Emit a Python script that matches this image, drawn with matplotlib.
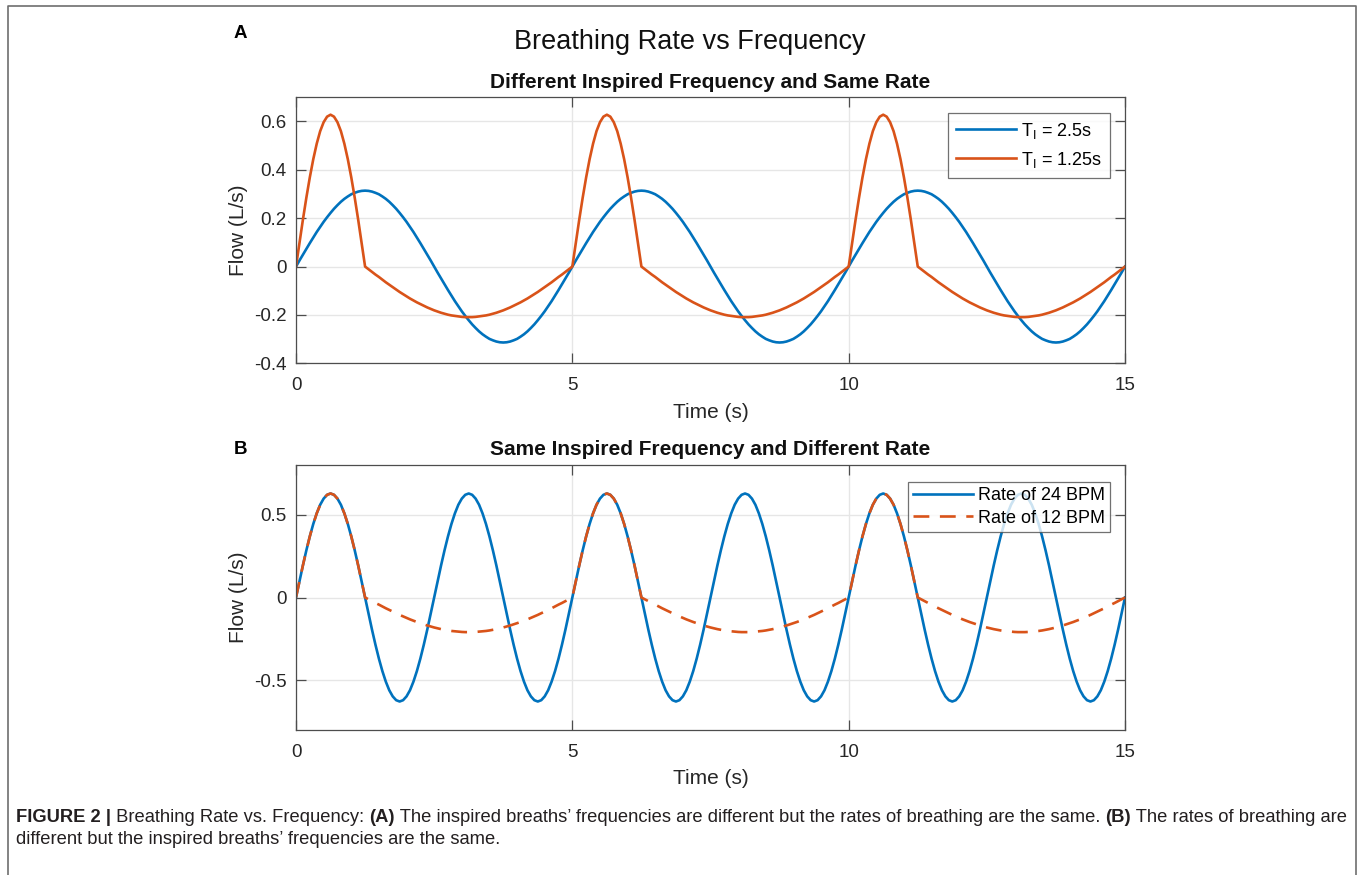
import numpy as np
import matplotlib
matplotlib.use("Agg")
import matplotlib.pyplot as plt
from matplotlib import font_manager
from matplotlib.lines import Line2D

time_s = np.linspace(0, 15, 241)

flow_ti_25 = [
    # 0 - 5 s
    0, 0.025, 0.049, 0.073, 0.097, 0.120, 0.143, 0.164, 0.185, 0.204, 0.222, 0.239, 0.254, 0.268, 0.280, 0.290, 0.299, 0.305, 0.310, 0.313,
    0.314, 0.313, 0.310, 0.305, 0.299, 0.290, 0.280, 0.268, 0.254, 0.239, 0.222, 0.204, 0.185, 0.164, 0.143, 0.120, 0.097, 0.073, 0.049, 0.025,
    0, -0.025, -0.049, -0.073, -0.097, -0.120, -0.143, -0.164, -0.185, -0.204, -0.222, -0.239, -0.254, -0.268, -0.280, -0.290, -0.299, -0.305, -0.310, -0.313,
    -0.314, -0.313, -0.310, -0.305, -0.299, -0.290, -0.280, -0.268, -0.254, -0.239, -0.222, -0.204, -0.185, -0.164, -0.143, -0.120, -0.097, -0.073, -0.049, -0.025,
    # 5 - 10 s
    0, 0.025, 0.049, 0.073, 0.097, 0.120, 0.143, 0.164, 0.185, 0.204, 0.222, 0.239, 0.254, 0.268, 0.280, 0.290, 0.299, 0.305, 0.310, 0.313,
    0.314, 0.313, 0.310, 0.305, 0.299, 0.290, 0.280, 0.268, 0.254, 0.239, 0.222, 0.204, 0.185, 0.164, 0.143, 0.120, 0.097, 0.073, 0.049, 0.025,
    0, -0.025, -0.049, -0.073, -0.097, -0.120, -0.143, -0.164, -0.185, -0.204, -0.222, -0.239, -0.254, -0.268, -0.280, -0.290, -0.299, -0.305, -0.310, -0.313,
    -0.314, -0.313, -0.310, -0.305, -0.299, -0.290, -0.280, -0.268, -0.254, -0.239, -0.222, -0.204, -0.185, -0.164, -0.143, -0.120, -0.097, -0.073, -0.049, -0.025,
    # 10 - 15 s
    0, 0.025, 0.049, 0.073, 0.097, 0.120, 0.143, 0.164, 0.185, 0.204, 0.222, 0.239, 0.254, 0.268, 0.280, 0.290, 0.299, 0.305, 0.310, 0.313,
    0.314, 0.313, 0.310, 0.305, 0.299, 0.290, 0.280, 0.268, 0.254, 0.239, 0.222, 0.204, 0.185, 0.164, 0.143, 0.120, 0.097, 0.073, 0.049, 0.025,
    0, -0.025, -0.049, -0.073, -0.097, -0.120, -0.143, -0.164, -0.185, -0.204, -0.222, -0.239, -0.254, -0.268, -0.280, -0.290, -0.299, -0.305, -0.310, -0.313,
    -0.314, -0.313, -0.310, -0.305, -0.299, -0.290, -0.280, -0.268, -0.254, -0.239, -0.222, -0.204, -0.185, -0.164, -0.143, -0.120, -0.097, -0.073, -0.049, -0.025,
    0,
]

flow_ti_125 = [
    # 0 - 5 s
    0, 0.098, 0.194, 0.285, 0.369, 0.444, 0.508, 0.560, 0.597, 0.620, 0.628, 0.620, 0.597, 0.560, 0.508, 0.444, 0.369, 0.285, 0.194, 0.098,
    0, -0.011, -0.022, -0.033, -0.043, -0.054, -0.065, -0.075, -0.085, -0.095, -0.105, -0.114, -0.123, -0.132, -0.140, -0.148, -0.155, -0.162, -0.169, -0.175,
    -0.181, -0.186, -0.191, -0.195, -0.199, -0.202, -0.204, -0.206, -0.208, -0.209, -0.209, -0.209, -0.208, -0.206, -0.204, -0.202, -0.199, -0.195, -0.191, -0.186,
    -0.181, -0.175, -0.169, -0.162, -0.155, -0.148, -0.140, -0.132, -0.123, -0.114, -0.105, -0.095, -0.085, -0.075, -0.065, -0.054, -0.043, -0.033, -0.022, -0.011,
    # 5 - 10 s
    0, 0.098, 0.194, 0.285, 0.369, 0.444, 0.508, 0.560, 0.597, 0.620, 0.628, 0.620, 0.597, 0.560, 0.508, 0.444, 0.369, 0.285, 0.194, 0.098,
    0, -0.011, -0.022, -0.033, -0.043, -0.054, -0.065, -0.075, -0.085, -0.095, -0.105, -0.114, -0.123, -0.132, -0.140, -0.148, -0.155, -0.162, -0.169, -0.175,
    -0.181, -0.186, -0.191, -0.195, -0.199, -0.202, -0.204, -0.206, -0.208, -0.209, -0.209, -0.209, -0.208, -0.206, -0.204, -0.202, -0.199, -0.195, -0.191, -0.186,
    -0.181, -0.175, -0.169, -0.162, -0.155, -0.148, -0.140, -0.132, -0.123, -0.114, -0.105, -0.095, -0.085, -0.075, -0.065, -0.054, -0.043, -0.033, -0.022, -0.011,
    # 10 - 15 s
    0, 0.098, 0.194, 0.285, 0.369, 0.444, 0.508, 0.560, 0.597, 0.620, 0.628, 0.620, 0.597, 0.560, 0.508, 0.444, 0.369, 0.285, 0.194, 0.098,
    0, -0.011, -0.022, -0.033, -0.043, -0.054, -0.065, -0.075, -0.085, -0.095, -0.105, -0.114, -0.123, -0.132, -0.140, -0.148, -0.155, -0.162, -0.169, -0.175,
    -0.181, -0.186, -0.191, -0.195, -0.199, -0.202, -0.204, -0.206, -0.208, -0.209, -0.209, -0.209, -0.208, -0.206, -0.204, -0.202, -0.199, -0.195, -0.191, -0.186,
    -0.181, -0.175, -0.169, -0.162, -0.155, -0.148, -0.140, -0.132, -0.123, -0.114, -0.105, -0.095, -0.085, -0.075, -0.065, -0.054, -0.043, -0.033, -0.022, -0.011,
    0,
]

flow_24_bpm = [
    # 0 - 5 s
    0, 0.098, 0.194, 0.285, 0.369, 0.444, 0.508, 0.560, 0.597, 0.620, 0.628, 0.620, 0.597, 0.560, 0.508, 0.444, 0.369, 0.285, 0.194, 0.098,
    0, -0.098, -0.194, -0.285, -0.369, -0.444, -0.508, -0.560, -0.597, -0.620, -0.628, -0.620, -0.597, -0.560, -0.508, -0.444, -0.369, -0.285, -0.194, -0.098,
    0, 0.098, 0.194, 0.285, 0.369, 0.444, 0.508, 0.560, 0.597, 0.620, 0.628, 0.620, 0.597, 0.560, 0.508, 0.444, 0.369, 0.285, 0.194, 0.098,
    0, -0.098, -0.194, -0.285, -0.369, -0.444, -0.508, -0.560, -0.597, -0.620, -0.628, -0.620, -0.597, -0.560, -0.508, -0.444, -0.369, -0.285, -0.194, -0.098,
    # 5 - 10 s
    0, 0.098, 0.194, 0.285, 0.369, 0.444, 0.508, 0.560, 0.597, 0.620, 0.628, 0.620, 0.597, 0.560, 0.508, 0.444, 0.369, 0.285, 0.194, 0.098,
    0, -0.098, -0.194, -0.285, -0.369, -0.444, -0.508, -0.560, -0.597, -0.620, -0.628, -0.620, -0.597, -0.560, -0.508, -0.444, -0.369, -0.285, -0.194, -0.098,
    0, 0.098, 0.194, 0.285, 0.369, 0.444, 0.508, 0.560, 0.597, 0.620, 0.628, 0.620, 0.597, 0.560, 0.508, 0.444, 0.369, 0.285, 0.194, 0.098,
    0, -0.098, -0.194, -0.285, -0.369, -0.444, -0.508, -0.560, -0.597, -0.620, -0.628, -0.620, -0.597, -0.560, -0.508, -0.444, -0.369, -0.285, -0.194, -0.098,
    # 10 - 15 s
    0, 0.098, 0.194, 0.285, 0.369, 0.444, 0.508, 0.560, 0.597, 0.620, 0.628, 0.620, 0.597, 0.560, 0.508, 0.444, 0.369, 0.285, 0.194, 0.098,
    0, -0.098, -0.194, -0.285, -0.369, -0.444, -0.508, -0.560, -0.597, -0.620, -0.628, -0.620, -0.597, -0.560, -0.508, -0.444, -0.369, -0.285, -0.194, -0.098,
    0, 0.098, 0.194, 0.285, 0.369, 0.444, 0.508, 0.560, 0.597, 0.620, 0.628, 0.620, 0.597, 0.560, 0.508, 0.444, 0.369, 0.285, 0.194, 0.098,
    0, -0.098, -0.194, -0.285, -0.369, -0.444, -0.508, -0.560, -0.597, -0.620, -0.628, -0.620, -0.597, -0.560, -0.508, -0.444, -0.369, -0.285, -0.194, -0.098,
    0,
]

# 12 BPM breathing uses the same breath as T_I = 1.25 s
flow_12_bpm = flow_ti_125

labels_a = ["T$_\\mathrm{I}$ = 2.5s", "T$_\\mathrm{I}$ = 1.25s"]
labels_b = ["Rate of 24 BPM", "Rate of 12 BPM"]
x_ticks = [0, 5, 10, 15]
y_ticks_a = [-0.4, -0.2, 0, 0.2, 0.4, 0.6]
y_ticks_b = [-0.5, 0, 0.5]

BLUE = "#0072BD"
RED = "#D95319"
TXT = "#262626"

names = {f.name for f in font_manager.fontManager.ttflist}
plt.rcParams["font.family"] = ["Liberation Sans", "DejaVu Sans"]
plt.rcParams["mathtext.fontset"] = "custom"
plt.rcParams["mathtext.rm"] = "Liberation Sans"
narrow = "Liberation Sans Narrow" if "Liberation Sans Narrow" in names else "Liberation Sans"

W, H = 1360, 875
fig = plt.figure(figsize=(W / 100, H / 100), dpi=100)


def fx(px):
    return px / W


def fy(py):
    return 1 - py / H


def style_axes(ax, yticks, ylim):
    ax.set_xlim(0, 15)
    ax.set_ylim(*ylim)
    ax.set_xticks(x_ticks)
    ax.set_yticks(yticks)
    ax.set_yticklabels([f"{v:g}" for v in yticks])
    ax.grid(True, color="#e6e6e6", linewidth=1.0)
    ax.set_axisbelow(True)
    ax.tick_params(direction="in", length=7, width=0.9, colors="#4d4d4d",
                   labelcolor=TXT, labelsize=13.5, top=True, right=True, pad=7)
    ax.tick_params(axis="x", pad=10)
    for sp in ax.spines.values():
        sp.set_color("#4d4d4d")
        sp.set_linewidth(0.9)
    ax.set_xlabel("Time (s)", fontsize=15, color=TXT, labelpad=6)
    ax.set_ylabel("Flow (L/s)", fontsize=15, color=TXT, labelpad=4)


# panel A
ax1 = fig.add_axes([fx(296), fy(363.3), fx(1125 - 296), (363.3 - 97.3) / H])
ax1.plot(time_s, flow_ti_25, color=BLUE, lw=1.9, label=labels_a[0])
ax1.plot(time_s, flow_ti_125, color=RED, lw=1.9, label=labels_a[1])
style_axes(ax1, y_ticks_a, (-0.4, 0.7))
ax1.set_title("Different Inspired Frequency and Same Rate", fontsize=15,
              fontweight="bold", color="#111111", pad=7)
leg1 = ax1.legend(loc="upper right", bbox_to_anchor=(0.9825, 0.9425),
                  fontsize=13, frameon=True, fancybox=False, edgecolor="#4d4d4d",
                  handlelength=3.3, borderpad=0.45, labelspacing=0.5,
                  handletextpad=0.3, borderaxespad=0)
leg1.get_frame().set_linewidth(0.9)

# panel B
ax2 = fig.add_axes([fx(296), fy(730), fx(1125 - 296), (730 - 465) / H])
ax2.plot(time_s, flow_24_bpm, color=BLUE, lw=1.9, label=labels_b[0])
ax2.plot(time_s, flow_12_bpm, color=RED, lw=1.9, ls=(0, (6, 4)), label=labels_b[1])
style_axes(ax2, y_ticks_b, (-0.8, 0.8))
ax2.set_title("Same Inspired Frequency and Different Rate", fontsize=15,
              fontweight="bold", color="#111111", pad=7)
leg2 = ax2.legend(loc="upper right", bbox_to_anchor=(0.9825, 0.9365),
                  fontsize=13, frameon=True, fancybox=False, edgecolor="#4d4d4d",
                  handlelength=3.3, borderpad=0.3, labelspacing=0.3,
                  handletextpad=0.3, borderaxespad=0)
leg2.get_frame().set_linewidth(0.9)

# titles and panel letters
fig.text(fx(690), fy(42), "Breathing Rate vs Frequency", fontsize=19.5,
         color="#111111", ha="center", va="center")
fig.text(fx(240), fy(33), "A", fontsize=13.5, fontweight="bold", ha="center", va="center")
fig.text(fx(240), fy(450), "B", fontsize=13.5, fontweight="bold", ha="center", va="center")

# outer border (open at the bottom)
fig.add_artist(Line2D([fx(8), fx(8), fx(1356), fx(1356)], [0, fy(6), fy(6), 0],
                      transform=fig.transFigure, color="#6e6e6e", lw=1.2))

# caption with mixed bold/regular runs
renderer = fig.canvas.get_renderer()
cap_lines = [
    [("FIGURE 2 |", "bold"), (" Breathing Rate vs. Frequency: ", "normal"), ("(A)", "bold"),
     (" The inspired breaths\u2019 frequencies are different but the rates of breathing are the same. ", "normal"),
     ("(B)", "bold"), (" The rates of breathing are", "normal")],
    [("different but the inspired breaths\u2019 frequencies are the same.", "normal")],
]
cap_y = [818, 840]
cap_size = 11.5 if narrow != "Liberation Sans" else 13.2
for runs, yy in zip(cap_lines, cap_y):
    x = 16
    for txt, wt in runs:
        t = fig.text(fx(x), fy(yy), txt, fontsize=cap_size, fontweight=wt, family=narrow,
                     color="#231F20", ha="left", va="center")
        bb = t.get_window_extent(renderer=renderer)
        x += bb.width

fig.savefig("out.png", dpi=100)
